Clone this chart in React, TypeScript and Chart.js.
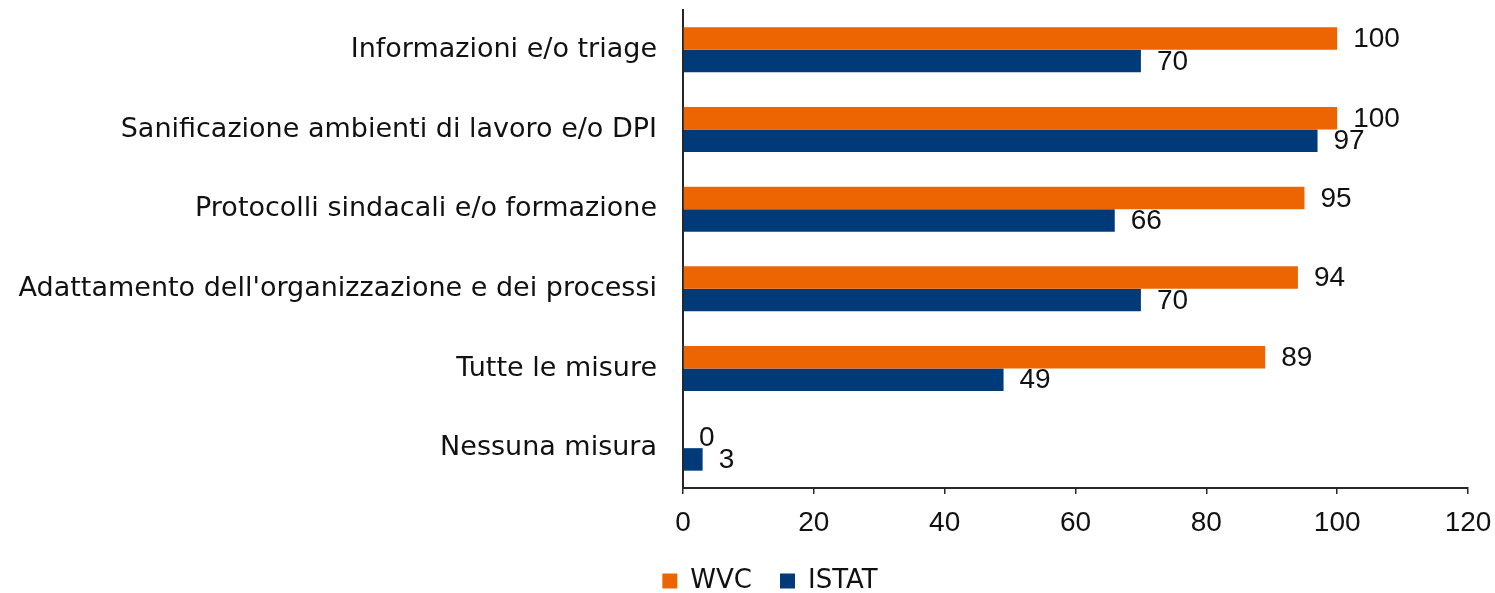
import React, { useEffect, useRef } from "react";
import { Chart, registerables } from "chart.js";

Chart.register(...registerables);

const categories = [
  "Informazioni e/o triage",
  "Sanificazione ambienti di lavoro e/o DPI",
  "Protocolli sindacali e/o formazione",
  "Adattamento dell'organizzazione e dei processi",
  "Tutte le misure",
  "Nessuna misura",
];
const wvcValues = [100, 100, 95, 94, 89, 0];
const istatValues = [70, 97, 66, 70, 49, 3];
const seriesNames = ["WVC", "ISTAT"];
const xTicks = { min: 0, max: 120, step: 20 };

const ORANGE = "#ED6502";
const BLUE = "#003A78";
const TEXT = "#111111";
const AXIS = "#262626";
const LABEL_FONT = "'DejaVu Sans', sans-serif";
const NUM_FONT = "'Liberation Sans', Arial, sans-serif";

const valueLabels = {
  id: "valueLabels",
  afterDatasetsDraw(chart: any) {
    const ctx = chart.ctx;
    ctx.save();
    ctx.font = `28px ${NUM_FONT}`;
    ctx.fillStyle = TEXT;
    ctx.textAlign = "left";
    ctx.textBaseline = "middle";
    chart.data.datasets.forEach((ds: any, di: number) => {
      const meta = chart.getDatasetMeta(di);
      meta.data.forEach((el: any, i: number) => {
        ctx.fillText(String(ds.data[i]), el.x + 16, el.y + 1);
      });
    });
    ctx.restore();
  },
};

const legendShift = {
  id: "legendShift",
  afterLayout(chart: any) {
    const lg = chart.legend;
    if (!lg) return;
    const dx = 36;
    const dy = -3;
    lg.left += dx;
    lg.right += dx;
    lg.top += dy;
    lg.bottom += dy;
  },
};

export default function App() {
  const ref = useRef<HTMLCanvasElement>(null);
  useEffect(() => {
    if (!ref.current) return;
    const chart = new Chart(ref.current, {
      type: "bar",
      data: {
        labels: categories,
        datasets: [
          {
            label: seriesNames[0],
            data: wvcValues,
            backgroundColor: ORANGE,
            categoryPercentage: 0.565,
            barPercentage: 1,
          },
          {
            label: seriesNames[1],
            data: istatValues,
            backgroundColor: BLUE,
            categoryPercentage: 0.565,
            barPercentage: 1,
          },
        ],
      },
      plugins: [valueLabels, legendShift],
      options: {
        indexAxis: "y",
        responsive: false,
        animation: false,
        layout: { padding: { left: 0, right: 27, top: 10, bottom: -14 } },
        plugins: {
          tooltip: { enabled: false },
          legend: {
            position: "bottom",
            align: "center",
            labels: {
              boxWidth: 15,
              boxHeight: 15,
              padding: 28,
              color: TEXT,
              font: { family: LABEL_FONT, size: 26 },
            },
          },
        },
        scales: {
          x: {
            min: xTicks.min,
            max: xTicks.max,
            ticks: {
              stepSize: xTicks.step,
              color: TEXT,
              padding: 12,
              maxRotation: 0,
              font: { family: NUM_FONT, size: 28 },
            },
            grid: {
              drawOnChartArea: false,
              drawTicks: true,
              tickLength: 6,
              color: AXIS,
              lineWidth: 1.5,
            },
            border: { display: true, color: AXIS, width: 2 },
            afterFit: (s: any) => {
              s.height = 55;
              s.paddingLeft = 0;
              s.paddingRight = 0;
            },
          },
          y: {
            ticks: {
              color: TEXT,
              padding: 26,
              font: { family: LABEL_FONT, size: 27 },
            },
            grid: { display: false, drawTicks: false },
            border: { display: true, color: AXIS, width: 2 },
            afterFit: (s: any) => {
              s.width = 683;
              s.paddingTop = 0;
              s.paddingBottom = 0;
            },
          },
        },
      },
    });
    return () => chart.destroy();
  }, []);
  return (
    <canvas
      ref={ref}
      width={1495}
      height={593}
      style={{ position: "absolute", left: 0, top: 0, display: "block" }}
    />
  );
}
